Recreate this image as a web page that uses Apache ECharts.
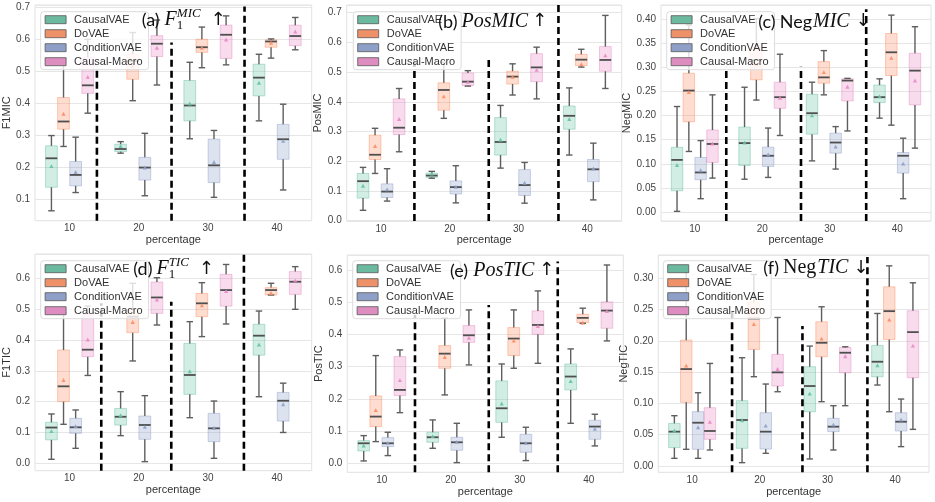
<!DOCTYPE html>
<html><head><meta charset="utf-8">
<script src="https://cdn.jsdelivr.net/npm/echarts@6/dist/echarts.min.js"></script>
<style>html,body{margin:0;padding:0;background:#fff}#chart{width:935px;height:502px}</style>
</head><body><div id="chart"></div>
<script>
// ---------------- DATA ----------------
const categories = ['10', '20', '30', '40'];
const seriesNames = ['CausalVAE', 'DoVAE', 'ConditionVAE', 'Causal-Macro'];
// each row (one per percentage): [lower whisker, Q1, median, Q3, upper whisker, mean]

// (a) F1 MIC
const F1MIC_CausalVAE = [[0.064,0.1375,0.228,0.267,0.299,0.202],[0.244,0.249,0.257,0.272,0.280,0.265],[0.289,0.345,0.393,0.471,0.528,0.398],[0.345,0.423,0.480,0.522,0.553,0.4625]];
const F1MIC_DoVAE = [[0.265,0.319,0.343,0.418,0.540,0.366],[0.408,0.475,0.532,0.554,0.621,0.515],[0.511,0.559,0.575,0.600,0.638,0.572],[0.541,0.575,0.593,0.598,0.601,0.5875]];
const F1MIC_ConditionVAE = [[0.121,0.142,0.176,0.218,0.294,0.184],[0.111,0.160,0.199,0.231,0.306,0.198],[0.106,0.152,0.206,0.288,0.315,0.215],[0.129,0.225,0.2875,0.334,0.397,0.281]];
const F1MIC_CausalMacro = [[0.369,0.431,0.456,0.544,0.600,0.481],[0.457,0.546,0.586,0.611,0.660,0.572],[0.520,0.540,0.614,0.644,0.673,0.598],[0.567,0.580,0.610,0.644,0.668,0.623]];
const F1MIC_dividers = [[0.395,0.515],[1.474,0.590],[2.529,0.702]];
const F1MIC_yRange = [0.033, 0.707];

// (b) Pos MIC
const PosMIC_CausalVAE = [[0.035,0.076,0.133,0.159,0.1795,0.116],[0.143,0.146,0.152,0.160,0.166,0.157],[0.177,0.221,0.265,0.347,0.388,0.271],[0.221,0.308,0.353,0.386,0.447,0.341]];
const PosMIC_DoVAE = [[0.159,0.206,0.222,0.288,0.311,0.250],[0.3445,0.372,0.440,0.464,0.533,0.417],[0.423,0.460,0.485,0.503,0.528,0.483],[0.517,0.522,0.542,0.560,0.577,0.525]];
const PosMIC_ConditionVAE = [[0.066,0.078,0.098,0.124,0.175,0.104],[0.060,0.090,0.113,0.134,0.185,0.113],[0.059,0.085,0.120,0.172,0.196,0.126],[0.070,0.1315,0.173,0.206,0.261,0.174]];
const PosMIC_CausalMacro = [[0.232,0.290,0.313,0.410,0.445,0.341],[0.453,0.455,0.468,0.497,0.505,0.466],[0.410,0.468,0.516,0.562,0.584,0.506],[0.445,0.503,0.541,0.586,0.691,0.555]];
const PosMIC_dividers = [[0.485,0.536],[1.566,0.551],[2.580,0.726]];
const PosMIC_yRange = [-0.001, 0.726];

// (c) Neg MIC
const NegMIC_CausalVAE = [[0.0014,0.044,0.108,0.134,0.2186,0.0966],[0.068,0.0966,0.1428,0.176,0.2586,0.1428],[0.106,0.1614,0.2048,0.244,0.269,0.1993],[0.1945,0.227,0.238,0.263,0.276,0.239]];
const NegMIC_DoVAE = [[0.1255,0.187,0.2517,0.2876,0.3876,0.2476],[0.232,0.274,0.315,0.341,0.401,0.305],[0.2428,0.267,0.279,0.3117,0.3345,0.289],[0.180,0.2828,0.331,0.370,0.408,0.3186]];
const NegMIC_ConditionVAE = [[0.0276,0.067,0.082,0.113,0.148,0.0855],[0.0717,0.0945,0.1166,0.1345,0.174,0.1186],[0.089,0.122,0.144,0.1634,0.177,0.1345],[0.0276,0.0807,0.1166,0.1234,0.153,0.0993]];
const NegMIC_CausalMacro = [[0.0703,0.1028,0.141,0.170,0.2428,0.141],[0.1586,0.215,0.238,0.269,0.327,0.236],[0.168,0.2303,0.2724,0.276,0.277,0.2586],[0.1324,0.222,0.293,0.329,0.384,0.2717]];
const NegMIC_dividers = [[0.467,0.301],[1.574,0.301],[2.540,0.420]];
const NegMIC_yRange = [-0.0186, 0.429];

// (d) F1 TIC
const F1TIC_CausalVAE = [[0.013,0.076,0.116,0.133,0.160,0.103],[0.0897,0.124,0.151,0.178,0.2324,0.1546],[0.148,0.2238,0.2865,0.389,0.4595,0.297],[0.216,0.351,0.414,0.451,0.494,0.384]];
const F1TIC_DoVAE = [[0.1265,0.200,0.2497,0.3676,0.487,0.269],[0.332,0.4238,0.4757,0.4995,0.584,0.457],[0.411,0.4757,0.519,0.551,0.586,0.511],[0.546,0.546,0.562,0.570,0.584,0.551]];
const F1TIC_ConditionVAE = [[0.0486,0.0973,0.1168,0.146,0.173,0.119],[0.0054,0.0778,0.1243,0.1535,0.2195,0.1168],[0.0162,0.0703,0.1135,0.162,0.202,0.1135],[0.100,0.137,0.203,0.230,0.260,0.190]];
const F1TIC_CausalMacro = [[0.285,0.346,0.3686,0.484,0.510,0.400],[0.4486,0.4865,0.538,0.588,0.602,0.530],[0.452,0.510,0.562,0.613,0.645,0.557],[0.4995,0.548,0.589,0.622,0.638,0.592]];
const F1TIC_dividers = [[0.458,0.519],[1.470,0.524],[2.520,0.681]];
const F1TIC_yRange = [-0.024, 0.679];

// (e) Pos TIC
const PosTIC_CausalVAE = [[0.0072,0.038,0.062,0.0703,0.0858,0.0538],[0.0465,0.0651,0.0807,0.0962,0.1344,0.0827],[0.0807,0.127,0.1706,0.2554,0.308,0.184],[0.124,0.2275,0.269,0.308,0.3547,0.2534]];
const PosTIC_DoVAE = [[0.0672,0.1138,0.1448,0.2089,0.334,0.1634],[0.212,0.2947,0.340,0.365,0.450,0.328],[0.2947,0.334,0.3868,0.4209,0.4757,0.3795],[0.4343,0.4364,0.451,0.4623,0.481,0.4343]];
const PosTIC_ConditionVAE = [[0.0238,0.0517,0.062,0.0796,0.0962,0.062],[0.002,0.0403,0.0651,0.0807,0.124,0.0651],[0.0083,0.0341,0.062,0.090,0.1117,0.062],[0.0538,0.0745,0.1138,0.1334,0.152,0.1055]];
const PosTIC_CausalMacro = [[0.157,0.210,0.2275,0.331,0.3516,0.2565],[0.305,0.375,0.397,0.427,0.4757,0.388],[0.310,0.400,0.429,0.4726,0.5346,0.424],[0.3795,0.4188,0.4736,0.5005,0.615,0.4705]];
const PosTIC_dividers = [[0.481,0.460],[1.550,0.491],[2.550,0.626]];
const PosTIC_yRange = [-0.028, 0.646];

// (f) Neg TIC
const NegTIC_CausalVAE = [[0.0122,0.0293,0.0548,0.068,0.0803,0.0559],[0.0053,0.0282,0.0734,0.1043,0.1729,0.0723],[0.0112,0.0867,0.1277,0.1585,0.1915,0.1149],[0.1293,0.1426,0.1665,0.1926,0.2436,0.1601]];
const NegTIC_DoVAE = [[0.0266,0.1016,0.1548,0.201,0.310,0.1596],[0.1426,0.1862,0.2356,0.2622,0.3059,0.226],[0.1027,0.1745,0.1968,0.2303,0.2543,0.2027],[0.0867,0.2021,0.2473,0.2862,0.3197,0.233]];
const NegTIC_ConditionVAE = [[0.0122,0.0266,0.0691,0.0867,0.117,0.0612],[0.0202,0.0271,0.0548,0.0851,0.1309,0.0638],[0.0255,0.0548,0.0628,0.0761,0.0963,0.0654],[0.0309,0.0559,0.0707,0.0851,0.1069,0.0734]];
const NegTIC_CausalMacro = [[0.0255,0.0426,0.0559,0.0931,0.1638,0.0697],[0.1186,0.1277,0.1495,0.1782,0.2372,0.1543],[0.0963,0.1489,0.1809,0.1894,0.1904,0.1745],[0.0585,0.141,0.2138,0.2479,0.2926,0.1915]];
const NegTIC_dividers = [[0.590,0.2463],[1.630,0.2234],[2.590,0.334]];
const NegTIC_yRange = [-0.0101, 0.337];

// ---------------- STYLE / LAYOUT ----------------
const BASE_COLORS = ['#66c2a5', '#fc8d62', '#8da0cb', '#e78ac3'];
const LEGEND_COLORS = ['#6bb99e', '#ee9169', '#8fa0c8', '#dd8dbf'];
const HUE_OFFSETS = [-0.2625, -0.0875, 0.0875, 0.2625];
const BOX_WIDTH = 0.17;
const FONT = '"Liberation Sans", Arial, sans-serif';

const panels = [
  { yName: 'F1MIC', boxes: [F1MIC_CausalVAE, F1MIC_DoVAE, F1MIC_ConditionVAE, F1MIC_CausalMacro], dividers: F1MIC_dividers, yRange: F1MIC_yRange,
    grid: { left: 35, top: 5, width: 276.7, height: 215.7 }, dec: 1, split: 7, nameGap: 17, legend: { left: 40.7, top: 11.7 } },
  { yName: 'PosMIC', boxes: [PosMIC_CausalVAE, PosMIC_DoVAE, PosMIC_ConditionVAE, PosMIC_CausalMacro], dividers: PosMIC_dividers, yRange: PosMIC_yRange,
    grid: { left: 346.7, top: 5, width: 275, height: 216 }, dec: 1, split: 7, nameGap: 17, legend: { left: 353.3, top: 11.7 } },
  { yName: 'NegMIC', boxes: [NegMIC_CausalVAE, NegMIC_DoVAE, NegMIC_ConditionVAE, NegMIC_CausalMacro], dividers: NegMIC_dividers, yRange: NegMIC_yRange,
    grid: { left: 661, top: 5, width: 270, height: 216 }, dec: 2, split: 9, nameGap: 22, legend: { left: 666.7, top: 11.7 } },
  { yName: 'F1TIC', boxes: [F1TIC_CausalVAE, F1TIC_DoVAE, F1TIC_ConditionVAE, F1TIC_CausalMacro], dividers: F1TIC_dividers, yRange: F1TIC_yRange,
    grid: { left: 35, top: 254, width: 276.7, height: 216.7 }, dec: 1, split: 7, nameGap: 16, legend: { left: 40.7, top: 260.7 } },
  { yName: 'PosTIC', boxes: [PosTIC_CausalVAE, PosTIC_DoVAE, PosTIC_ConditionVAE, PosTIC_CausalMacro], dividers: PosTIC_dividers, yRange: PosTIC_yRange,
    grid: { left: 347.3, top: 255, width: 276, height: 217.3 }, dec: 1, split: 7, nameGap: 18, legend: { left: 352.7, top: 260.7 } },
  { yName: 'NegTIC', boxes: [NegTIC_CausalVAE, NegTIC_DoVAE, NegTIC_ConditionVAE, NegTIC_CausalMacro], dividers: NegTIC_dividers, yRange: NegTIC_yRange,
    grid: { left: 658.3, top: 255, width: 270.7, height: 217.3 }, dec: 2, split: 7, nameGap: 22, legend: { left: 663.3, top: 260.7 } }
];

function rgba(hex, a) {
  const n = parseInt(hex.slice(1), 16);
  return 'rgba(' + (n >> 16) + ',' + ((n >> 8) & 255) + ',' + (n & 255) + ',' + a + ')';
}

function makeBoxRender(h) {
  const off = HUE_OFFSETS[h];
  const col = BASE_COLORS[h];
  return function (params, api) {
    const xv = api.value(0) + off;
    const p = [1, 2, 3, 4, 5, 6].map(k => api.coord([xv, api.value(k)]));
    const cx = p[2][0];
    const hw = api.size([BOX_WIDTH, 0])[0] / 2;
    const cw = hw * 0.55;
    const ws = { stroke: '#5e5e5e', lineWidth: 1.4 };
    const my = p[5][1];
    return {
      type: 'group',
      children: [
        { type: 'rect', shape: { x: cx - hw, y: p[3][1], width: 2 * hw, height: p[1][1] - p[3][1] },
          style: { fill: rgba(col, 0.3), stroke: rgba(col, 0.45), lineWidth: 1 } },
        { type: 'line', shape: { x1: cx, y1: p[3][1], x2: cx, y2: p[4][1] }, style: ws },
        { type: 'line', shape: { x1: cx, y1: p[1][1], x2: cx, y2: p[0][1] }, style: ws },
        { type: 'line', shape: { x1: cx - cw, y1: p[4][1], x2: cx + cw, y2: p[4][1] }, style: ws },
        { type: 'line', shape: { x1: cx - cw, y1: p[0][1], x2: cx + cw, y2: p[0][1] }, style: ws },
        { type: 'line', shape: { x1: cx - hw, y1: p[2][1], x2: cx + hw, y2: p[2][1] }, style: { stroke: '#4f4f4f', lineWidth: 1.8 } },
        { type: 'polygon', shape: { points: [[cx, my - 2.4], [cx - 2.1, my + 1.5], [cx + 2.1, my + 1.5]] }, style: { fill: col, opacity: 0.9 } }
      ]
    };
  };
}

function dividerRender(params, api) {
  const top = api.coord([api.value(0), api.value(1)]);
  const bottom = params.coordSys.y + params.coordSys.height;
  return { type: 'line', shape: { x1: top[0], y1: bottom, x2: top[0], y2: top[1] },
    style: { stroke: '#000', lineWidth: 2.6, lineDash: [7, 4] } };
}

const grids = [], xAxes = [], yAxes = [], series = [], legends = [];
panels.forEach((pn, i) => {
  grids.push(Object.assign({ show: true, borderColor: '#e2e2e2', borderWidth: 1, backgroundColor: '#fff' }, pn.grid));
  xAxes.push({
    gridIndex: i, type: 'value', min: -0.5, max: 3.5, interval: 0.5,
    axisLine: { show: false }, axisTick: { show: false }, splitLine: { show: false },
    axisLabel: { margin: 3, fontSize: 10, color: '#444', fontFamily: FONT, showMinLabel: true, showMaxLabel: true,
      formatter: v => { const k = Math.round(v); return (Math.abs(v - k) < 1e-6 && k >= 0 && k < categories.length) ? categories[k] : ''; } },
    name: 'percentage', nameLocation: 'middle', nameGap: 12,
    nameTextStyle: { fontSize: 11, color: '#333', fontFamily: FONT }
  });
  yAxes.push({
    gridIndex: i, type: 'value', min: pn.yRange[0], max: pn.yRange[1], splitNumber: pn.split,
    axisLine: { show: false }, axisTick: { show: false },
    splitLine: { lineStyle: { color: '#e6e6e6', width: 1 } },
    axisLabel: { margin: 5, fontSize: 10, color: '#444', fontFamily: FONT, showMinLabel: false, showMaxLabel: false,
      formatter: v => v.toFixed(pn.dec) },
    name: pn.yName, nameLocation: 'middle', nameGap: pn.nameGap,
    nameTextStyle: { fontSize: 11, color: '#333', fontFamily: FONT }
  });
  pn.boxes.forEach((arr, h) => {
    series.push({
      type: 'custom', name: seriesNames[h], xAxisIndex: i, yAxisIndex: i,
      itemStyle: { color: LEGEND_COLORS[h] },
      encode: { x: 0, y: [1, 5] },
      data: arr.map((r, g) => [g].concat(r)),
      renderItem: makeBoxRender(h), z: 2
    });
  });
  series.push({ type: 'custom', xAxisIndex: i, yAxisIndex: i, data: pn.dividers, encode: { x: 0, y: 1 },
    renderItem: dividerRender, z: 3, silent: true });
  legends.push({
    left: pn.legend.left, top: pn.legend.top, orient: 'vertical', data: seriesNames,
    icon: 'rect', itemWidth: 21, itemHeight: 8, itemGap: 2, padding: [2, 6, 2, 4],
    backgroundColor: 'rgba(255,255,255,0.8)', borderColor: '#dcdcdc', borderWidth: 1, borderRadius: 3,
    itemStyle: { borderColor: '#555', borderWidth: 0.8 },
    textStyle: { fontSize: 11, color: '#333', fontFamily: FONT, lineHeight: 12, padding: [0, 0, 0, 3] },
    selectedMode: false, z: 4
  });
});

// ---------------- TITLES ----------------
const SANS_T = '18px Lato, "Noto Sans", sans-serif';
const MATH = 'italic 20px "Liberation Serif", "DejaVu Serif", serif';
const MATH_UP = '20px "Liberation Serif", "DejaVu Serif", serif';
const SMALL_I = 'italic 13px "Liberation Serif", serif';
const SMALL_U = '13px "Liberation Serif", serif';
const ARROW = '18px "DejaVu Sans", sans-serif';
const titleSpecs = [
  { x: 141.7, y: 20, segs: [{ t: '(a)', f: SANS_T }, { t: 'F', f: MATH, gap: 5 }, { stack: [{ t: 'MIC', f: SMALL_I, dy: -6 }, { t: '1', f: SMALL_U, dy: 6 }], gap: 0 }, { t: '↑', f: ARROW, gap: 10 }] },
  { x: 438.3, y: 21.7, segs: [{ t: '(b)', f: SANS_T }, { t: 'PosMIC', f: MATH, gap: 4 }, { t: '↑', f: ARROW, gap: 4 }] },
  { x: 758.3, y: 21.7, segs: [{ t: '(c)', f: SANS_T }, { t: 'Neg', f: SANS_T, gap: 4 }, { t: 'MIC', f: MATH, gap: 1 }, { t: '↓', f: ARROW, gap: 6 }] },
  { x: 133.3, y: 269, segs: [{ t: '(d)', f: SANS_T }, { t: 'F', f: MATH, gap: 4 }, { stack: [{ t: 'TIC', f: SMALL_I, dy: -6 }, { t: '1', f: SMALL_U, dy: 6 }], gap: 0 }, { t: '↑', f: ARROW, gap: 10 }] },
  { x: 450, y: 270.7, segs: [{ t: '(e)', f: SANS_T }, { t: 'PosTIC', f: MATH, gap: 5 }, { t: '↑', f: ARROW, gap: 5 }] },
  { x: 763.3, y: 268, segs: [{ t: '(f)', f: SANS_T }, { t: 'Neg', f: MATH_UP, gap: 4 }, { t: 'TIC', f: MATH, gap: 1 }, { t: '↓', f: ARROW, gap: 5 }] }
];
const mctx = document.createElement('canvas').getContext('2d');
function measure(t, f) { mctx.font = f; return mctx.measureText(t).width; }
const graphics = [];
titleSpecs.forEach(ts => {
  let x = ts.x;
  ts.segs.forEach(s => {
    x += (s.gap || 0);
    if (s.stack) {
      let w = 0;
      s.stack.forEach(pz => {
        w = Math.max(w, measure(pz.t, pz.f));
        graphics.push({ type: 'text', x: x, y: ts.y + pz.dy, z: 100, silent: true,
          style: { text: pz.t, font: pz.f, fill: '#111', align: 'left', verticalAlign: 'middle' } });
      });
      x += w;
    } else {
      graphics.push({ type: 'text', x: x, y: ts.y, z: 100, silent: true,
        style: { text: s.t, font: s.f, fill: '#111', align: 'left', verticalAlign: 'middle' } });
      x += measure(s.t, s.f);
    }
  });
});

const chart = echarts.init(document.getElementById('chart'), null, { renderer: 'canvas' });
chart.setOption({
  animation: false,
  backgroundColor: '#fff',
  grid: grids, xAxis: xAxes, yAxis: yAxes, series: series, legend: legends,
  graphic: graphics
});
</script>
</body></html>
